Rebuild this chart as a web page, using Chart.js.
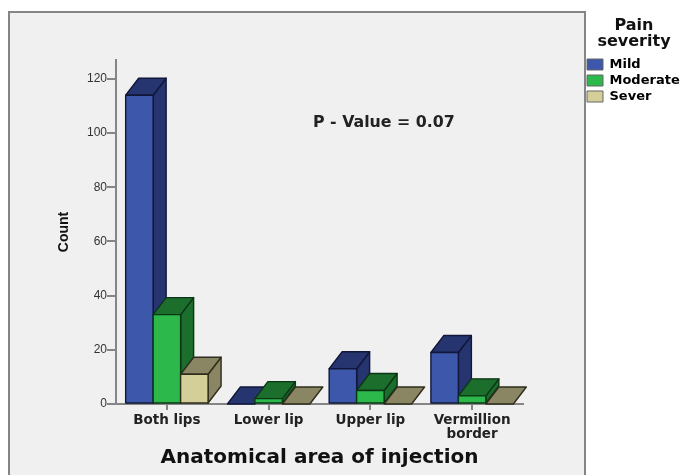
<!DOCTYPE html>
<html>
<head>
<meta charset="utf-8">
<style>
html,body{margin:0;padding:0;background:#fff;overflow:hidden}
#wrap{position:relative;width:680px;height:475px;overflow:hidden}
#frame{position:absolute;left:8px;top:11px;width:574px;height:480px;background:#f0f0f0;border:2px solid #858585}
canvas{position:absolute;left:0;top:0}
</style>
<script src="https://cdn.jsdelivr.net/npm/chart.js@4"></script>
</head>
<body>
<div id="wrap"><div id="frame"></div><canvas id="c" width="680" height="475"></canvas></div>
<script>
const categories = ['Both lips', 'Lower lip', 'Upper lip', ['Vermillion', 'border']];
const mild = [114, 0, 13, 19];
const moderate = [33, 2, 5, 3];
const sever = [11, 0, 0, 0];
const yTicks = [0, 20, 40, 60, 80, 100, 120];
const seriesNames = ['Mild', 'Moderate', 'Sever'];
const frontColors = ['#3d58aa', '#2db84b', '#d4cf99'];
const darkColors = ['#26346f', '#1c6e2d', '#8a8562'];
const edgeColors = ['#10173a', '#0b3615', '#2e2c1c'];
const legendTitle = ['Pain', 'severity'];
const note = 'P - Value = 0.07';
const boldFont = 'DejaVu Sans';

const depthX = 13, depthY = 17;

function poly(ctx, pts, fill, edge) {
  ctx.beginPath();
  pts.forEach((p, i) => i ? ctx.lineTo(p[0], p[1]) : ctx.moveTo(p[0], p[1]));
  ctx.closePath();
  ctx.fillStyle = fill;
  ctx.fill();
  ctx.lineWidth = 1.4;
  ctx.lineJoin = 'round';
  ctx.strokeStyle = edge;
  ctx.stroke();
}

const bars3d = {
  id: 'bars3d',
  afterLayout(chart) {
    const l = chart.legend;
    l.left = 584; l.right = 680; l.top = 55; l.bottom = 200;
  },
  afterDatasetsDraw(chart) {
    const ctx = chart.ctx;
    ctx.save();
    chart.data.datasets.forEach((ds, di) => {
      chart.getDatasetMeta(di).data.forEach(bar => {
        const p = bar.getProps(['x', 'y', 'base', 'width'], true);
        const a = p.x - p.width / 2, b = p.x + p.width / 2, t = p.y, bt = p.base;
        if (bt - t > 0.5) {
          poly(ctx, [[b, t], [b + depthX, t - depthY], [b + depthX, bt - depthY], [b, bt]], darkColors[di], edgeColors[di]);
        }
        poly(ctx, [[a, t], [a + depthX, t - depthY], [b + depthX, t - depthY], [b, t]], darkColors[di], edgeColors[di]);
        if (bt - t > 0.5) {
          poly(ctx, [[a, t], [b, t], [b, bt], [a, bt]], frontColors[di], edgeColors[di]);
        }
      });
    });
    ctx.restore();
  },
  afterDraw(chart) {
    const ctx = chart.ctx;
    ctx.save();
    ctx.textAlign = 'center';
    ctx.textBaseline = 'middle';
    ctx.fillStyle = '#111';
    ctx.font = 'bold 16px "' + boldFont + '"';
    legendTitle.forEach((s, i) => ctx.fillText(s, 634, 26 + i * 16));
    ctx.textAlign = 'left';
    ctx.fillStyle = '#222';
    ctx.font = 'bold 15.8px "' + boldFont + '"';
    ctx.fillText(note, 313, 123);
    ctx.restore();
  }
};

new Chart(document.getElementById('c'), {
  type: 'bar',
  plugins: [bars3d],
  data: {
    labels: categories,
    datasets: [mild, moderate, sever].map((values, i) => ({
      label: seriesNames[i],
      data: values,
      backgroundColor: frontColors[i],
      borderColor: '#666666',
      borderWidth: 0,
      categoryPercentage: 0.81,
      barPercentage: 1
    }))
  },
  options: {
    responsive: false,
    animation: false,
    layout: { padding: { left: 0, top: 60, right: 157, bottom: 0 } },
    plugins: {
      tooltip: { enabled: false },
      title: { display: false },
      legend: {
        position: 'chartArea',
        align: 'start',
        labels: {
          boxWidth: 16, boxHeight: 11, padding: 3, color: '#222',
          font: { family: boldFont, weight: 'bold', size: 13 },
          generateLabels: chart => chart.data.datasets.map((d, i) => ({
            text: d.label, fillStyle: frontColors[i], strokeStyle: '#666666', lineWidth: 1, datasetIndex: i
          }))
        }
      }
    },
    scales: {
      x: {
        afterFit: s => { s.height = 71; },
        border: { color: '#858585', width: 2 },
        grid: { offset: false, drawOnChartArea: false, drawTicks: true, tickLength: 6, color: '#858585', lineWidth: 2 },
        ticks: { color: '#222', padding: 4, maxRotation: 0, autoSkip: false, font: { family: boldFont, weight: 'bold', size: 13.5, lineHeight: 1 } },
        title: { display: true, text: 'Anatomical area of injection', color: '#111', padding: { top: 5, bottom: 5 }, font: { family: boldFont, weight: 'bold', size: 20 } }
      },
      y: {
        min: 0,
        max: 127,
        afterFit: s => { s.width = 116; },
        afterBuildTicks: s => { s.ticks = yTicks.map(v => ({ value: v })); },
        border: { color: '#858585', width: 2 },
        grid: { drawOnChartArea: false, drawTicks: true, tickLength: 9, color: '#858585', lineWidth: 2 },
        ticks: { color: '#333', padding: 0, font: { family: 'Liberation Sans', size: 12 } },
        title: { display: true, text: 'Count', color: '#111', padding: { top: 56, bottom: 0 }, font: { family: 'Liberation Sans', weight: 'bold', size: 14 } }
      }
    }
  }
});
</script>
</body>
</html>
